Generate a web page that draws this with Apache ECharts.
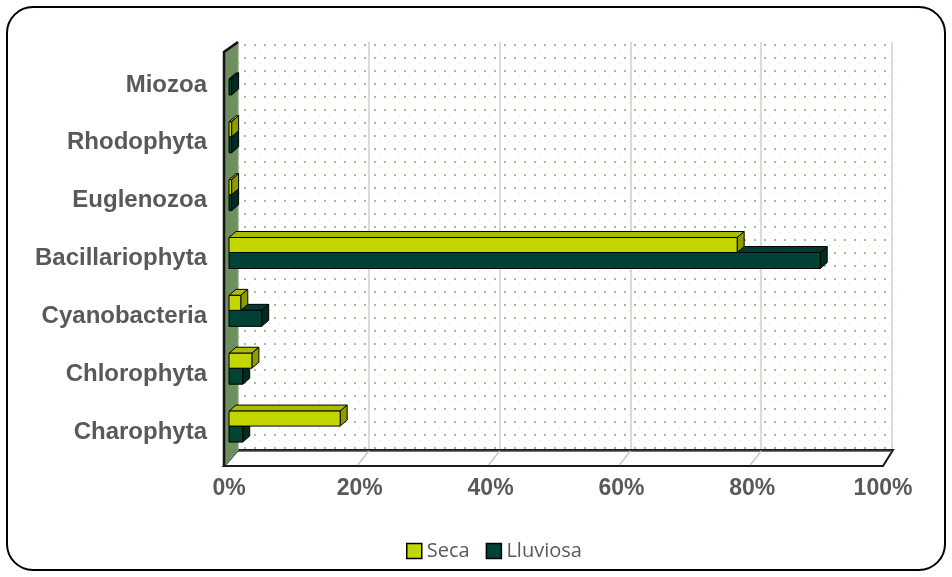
<!DOCTYPE html>
<html>
<head>
<meta charset="utf-8">
<script src="https://cdn.jsdelivr.net/npm/echarts@6/dist/echarts.min.js"></script>
<style>html,body{margin:0;padding:0;background:#fff}#c{width:952px;height:577px}</style>
</head>
<body>
<div id="c"></div>
<script>
const categories = ['Charophyta', 'Chlorophyta', 'Cyanobacteria', 'Bacillariophyta', 'Euglenozoa', 'Rhodophyta', 'Miozoa'];
const seca = [17.0, 3.5, 1.8, 77.7, 0.4, 0.4, 0];
const lluviosa = [2.1, 2.1, 5.0, 90.4, 0.4, 0.4, 0.4];
const xTicks = [0, 20, 40, 60, 80, 100];

// layout constants
const FL = 229, FT = 56, FW = 654, FH = 405;      // front plane
const BL = 238, BT = 42, BW = 654, BH = 408;      // back wall

const pc = document.createElement('canvas');
pc.width = 10; pc.height = 13;
const g = pc.getContext('2d');
g.fillStyle = 'rgba(100,165,85,0.65)';
g.fillRect(4, 5, 2, 2);
g.fillStyle = 'rgba(100,165,85,0.3)';
g.fillRect(9, 11, 1, 1);
const pattern = { image: pc, repeat: 'repeat' };

function makeRender(off0, off1, front, top, side) {
  return function (params, api) {
    const v = api.value(0), c = api.value(1);
    const p0 = api.coord([0, c]);
    const p1 = api.coord([v, c]);
    const x0 = p0[0], x1 = Math.max(p1[0], x0 + 0.5), yc = p0[1];
    const yt = yc + off0, yb = yc + off1;
    const dx = 7, dy = -6;
    const st = { stroke: '#000', lineWidth: 1 };
    if (v <= 0) return { type: 'group', children: [] };
    return {
      type: 'group',
      children: [
        { type: 'polygon', shape: { points: [[x0, yt], [x1, yt], [x1 + dx, yt + dy], [x0 + dx, yt + dy]] }, style: Object.assign({ fill: top }, st) },
        { type: 'polygon', shape: { points: [[x1, yt], [x1 + dx, yt + dy], [x1 + dx, yb + dy], [x1, yb]] }, style: Object.assign({ fill: side }, st) },
        { type: 'rect', shape: { x: x0, y: yt, width: x1 - x0, height: yb - yt }, style: Object.assign({ fill: front }, st) }
      ]
    };
  };
}

const floorLines = xTicks.slice(1, 5).map(function (t) {
  const bx = BL + BW * t / 100, fx = FL + FW * t / 100;
  return { type: 'line', z: 1, shape: { x1: bx, y1: 451, x2: fx - 2, y2: 465 }, style: { stroke: '#c8c8c8', lineWidth: 1.5 } };
});

const chart = echarts.init(document.getElementById('c'));
chart.setOption({
  animation: false,
  backgroundColor: '#fff',
  grid: [
    { left: BL, top: BT, width: BW, height: BH, show: true, backgroundColor: pattern, borderWidth: 0 },
    { left: FL, top: FT, width: FW, height: FH, show: false }
  ],
  xAxis: [
    { gridIndex: 0, type: 'value', min: 0, max: 100, interval: 20,
      axisLine: { show: false }, axisTick: { show: false }, axisLabel: { show: false },
      splitLine: { show: true, lineStyle: { color: '#dadada', width: 2 } } },
    { gridIndex: 1, type: 'value', min: 0, max: 100, interval: 20,
      axisLine: { show: false }, axisTick: { show: false }, splitLine: { show: false },
      axisLabel: { formatter: '{value}%', margin: 16, color: '#595959', fontSize: 23, fontWeight: 'bold', fontFamily: 'Liberation Sans, Arial, sans-serif' } }
  ],
  yAxis: [
    { gridIndex: 0, type: 'value', show: false },
    { gridIndex: 1, type: 'category', data: categories,
      axisLine: { show: false }, axisTick: { show: false }, splitLine: { show: false },
      axisLabel: { margin: 22, color: '#595959', fontSize: 24, fontWeight: 'bold', fontFamily: 'Liberation Sans, Arial, sans-serif' } }
  ],
  legend: {
    data: ['Seca', 'Lluviosa'],
    left: 401, top: 536,
    itemWidth: 15, itemHeight: 15, itemGap: 16,
    icon: 'rect',
    itemStyle: { borderColor: '#000', borderWidth: 1.5 },
    textStyle: { color: '#595959', fontSize: 20, fontFamily: 'Open Sans, sans-serif' }
  },
  graphic: [
    // floor
    { type: 'polygon', z: 1, shape: { points: [[224, 466], [238, 450], [893, 450], [883, 466]] },
      style: { fill: '#ffffff', stroke: '#1a1a1a', lineWidth: 2 } },
    { type: 'line', z: 1, shape: { x1: 238, y1: 451, x2: 892, y2: 451 }, style: { stroke: '#444', lineWidth: 1.5 } }
  ].concat(floorLines).concat([
    // left wall
    { type: 'polygon', z: 1, shape: { points: [[224, 52], [238, 42], [238, 450], [224, 466]] },
      style: { fill: '#6e8f5e', stroke: '#8aa57c', lineWidth: 1 } },
    { type: 'polyline', z: 1, shape: { points: [[224, 466], [224, 52], [238, 42]] },
      style: { stroke: '#111', lineWidth: 2.5, fill: null } },
    // frame
    { type: 'rect', z: 10, shape: { x: 7, y: 7, width: 938, height: 563, r: 26 },
      style: { fill: null, stroke: '#000', lineWidth: 2 } }
  ]),
  series: [
    { name: 'Lluviosa', type: 'custom', xAxisIndex: 1, yAxisIndex: 1, z: 3,
      itemStyle: { color: '#004236' },
      encode: { x: 0, y: 1 },
      data: lluviosa.map(function (v, i) { return [v, i]; }),
      renderItem: makeRender(-6, 10, '#004236', '#003a30', '#002c24') },
    { name: 'Seca', type: 'custom', xAxisIndex: 1, yAxisIndex: 1, z: 4,
      itemStyle: { color: '#c3d600' },
      encode: { x: 0, y: 1 },
      data: seca.map(function (v, i) { return [v, i]; }),
      renderItem: makeRender(-21, -6, '#c3d600', '#aabb00', '#8e9c00') }
  ]
});
</script>
</body>
</html>
